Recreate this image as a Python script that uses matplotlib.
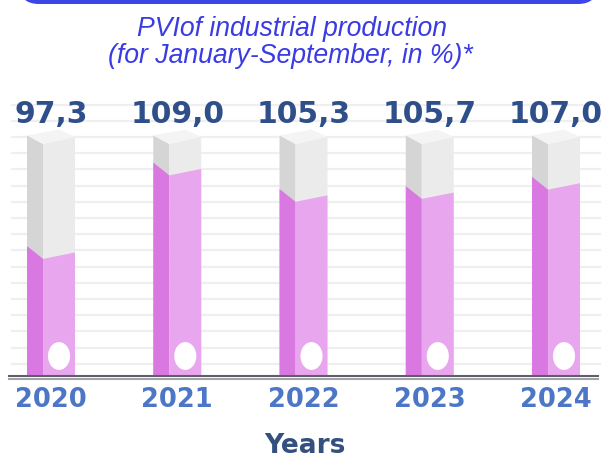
import matplotlib
matplotlib.use("Agg")
import matplotlib.pyplot as plt
import numpy as np
from matplotlib.patches import Polygon, Ellipse, FancyBboxPatch

years = ["2020", "2021", "2022", "2023", "2024"]
values = [97.3, 109.0, 105.3, 105.7, 107.0]
value_labels = ["97,3", "109,0", "105,3", "105,7", "107,0"]

base = 80.0     # columns start here
full = 113.7    # top of the (empty) grey column

side_pink = "#da78e1"
front_pink = "#e8a6ee"
side_grey = "#d5d5d5"
front_grey = "#ebebeb"
top_grey = "#f4f4f4"

W, H = 603, 460
fig = plt.figure(figsize=(W / 100, H / 100), dpi=100)

# axes: bottom edge at 385 px, top at 100 px (from the top of the picture)
px_per_unit = 7.14
ax = fig.add_axes([0, (H - 385) / H, 1, 285 / H])
ax.set_ylim(base - 8 / px_per_unit, base + 277 / px_per_unit)
ax.set_xlim(-0.404, -0.404 + W / 126.25)
for s in ax.spines.values():
    s.set_visible(False)

# light horizontal rules
for g in np.arange(81.7, 118.6, 2.27):
    ax.axhline(g, xmin=0.02, xmax=0.995, color="#efefef", lw=1.6, zorder=0)

# baseline
ax.axhline(base - 0.07, xmin=0.015, xmax=0.992, color="#5f5f67", lw=1.5, zorder=3)
ax.axhline(base - 0.42, xmin=0.015, xmax=0.992, color="#a2a2aa", lw=1.5, zorder=3)

for i, v in enumerate(values):
    xl, xm, xr = i - 0.19, i - 0.063, i + 0.19
    # empty grey column
    ax.add_patch(Polygon([(xl, base), (xl, full), (xm, full - 1.2), (xm, base)],
                         closed=True, fc=side_grey, ec="none", zorder=1))
    ax.add_patch(Polygon([(xm, base), (xm, full - 1.2), (xr, full - 0.2), (xr, base)],
                         closed=True, fc=front_grey, ec="none", zorder=1))
    ax.add_patch(Polygon([(xl, full), (xm, full - 1.2), (xr, full - 0.2),
                          (xl + (xr - xm), full + 0.8)],
                         closed=True, fc=top_grey, ec="none", zorder=1))
    # filled part
    ax.add_patch(Polygon([(xl, base), (xl, v + 0.9), (xm, v - 0.9), (xm, base)],
                         closed=True, fc=side_pink, ec="none", zorder=2))
    ax.add_patch(Polygon([(xm, base), (xm, v - 0.9), (xr, v), (xr, base)],
                         closed=True, fc=front_pink, ec="none", zorder=2))
    ax.add_patch(Ellipse(((xm + xr) / 2, base + 2.8), 0.175, 3.9,
                         fc="white", ec="none", zorder=2))
    ax.text(i, 116.83, value_labels[i], ha="center", va="center",
            fontsize=21.5, fontweight="bold", color="#2f4f8a")

ax.set_yticks([])
ax.set_xticks(range(len(years)), years)
ax.tick_params(axis="x", length=0, pad=1.5, labelsize=18.5, labelcolor="#4d77c6")
for t in ax.get_xticklabels():
    t.set_fontweight("bold")

fig.text(305 / W, 1 - 453 / H, "Years", ha="center", va="baseline",
         fontsize=19, fontweight="bold", color="#34507f")

title_font = ["Liberation Sans", "DejaVu Sans"]
fig.text(292 / W, 1 - 36 / H, "PVIof industrial production", ha="center",
         va="baseline", style="italic", family=title_font, fontsize=19.2,
         color="#3b3be3")
fig.text(290 / W, 1 - 63 / H, "(for January-September, in %)*", ha="center",
         va="baseline", style="italic", family=title_font, fontsize=19.2,
         color="#3b3be3")

# blue banner peeking in at the top
fig.add_artist(FancyBboxPatch((0.19, 4.55), 5.79, 0.6,
                              boxstyle="round,pad=0,rounding_size=0.2",
                              transform=fig.dpi_scale_trans,
                              fc="#3c45e6", ec="none"))

plt.savefig("out.png", dpi=100)
